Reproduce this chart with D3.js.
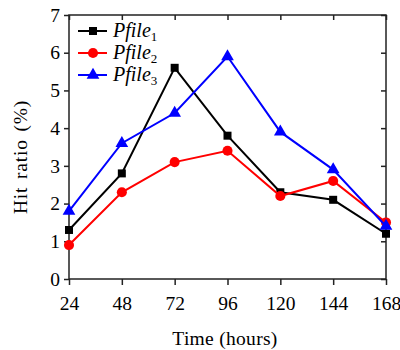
<!DOCTYPE html>
<html>
<head>
<meta charset="utf-8">
<script src="https://cdn.jsdelivr.net/npm/d3@7"></script>
<style>
	body { margin: 0; background: #fff; }
	text { font-family: "Liberation Serif", "Times New Roman", serif; fill: #000; }
</style>
</head>
<body>
<div id="chart"></div>
<script>
const hours = [24, 48, 72, 96, 120, 144, 168];
const pfile1 = [1.3, 2.8, 5.6, 3.8, 2.3, 2.1, 1.2];
const pfile2 = [0.9, 2.3, 3.1, 3.4, 2.2, 2.6, 1.5];
const pfile3 = [1.8, 3.6, 4.4, 5.9, 3.9, 2.9, 1.4];
const yTicks = [0, 1, 2, 3, 4, 5, 6, 7];
const seriesNames = ['1', '2', '3'];

const width = 400;
const height = 350;
const margin = { top: 15, right: 14, bottom: 71, left: 69 };
const chartWidth = width - margin.left - margin.right;
const chartHeight = height - margin.top - margin.bottom;

const svg = d3.select('#chart').append('svg')
	.attr('width', width)
	.attr('height', height)
	.attr('font-family', '"Liberation Serif", serif');

const g = svg.append('g').attr('transform', `translate(${margin.left},${margin.top})`);

const xScale = d3.scaleLinear().domain([24, 168]).range([0, chartWidth]);
const yScale = d3.scaleLinear().domain([0, 7]).range([chartHeight, 0]);

const series = [
	{ values: pfile1, color: '#000', symbol: d3.symbolSquare, size: 64 },
	{ values: pfile2, color: '#ff0000', symbol: d3.symbolCircle, size: 80 },
	{ values: pfile3, color: '#0000ff', symbol: d3.symbolTriangle, size: 70 },
];

// frame
g.append('rect')
	.attr('width', chartWidth)
	.attr('height', chartHeight)
	.attr('fill', 'none')
	.attr('stroke', '#222')
	.attr('stroke-width', 1.5);

// axes
const xAxis = g.append('g')
	.attr('transform', `translate(0,${chartHeight})`)
	.call(d3.axisBottom(xScale).tickValues(hours).tickSize(6).tickPadding(11));
const yAxis = g.append('g')
	.call(d3.axisLeft(yScale).tickValues(yTicks).tickFormat(d3.format('d')).tickSize(5).tickPadding(4));

[xAxis, yAxis].forEach((a) => {
	a.attr('font-family', null);
	a.select('.domain').remove();
	a.selectAll('line').attr('stroke', '#222').attr('stroke-width', 1.5);
	a.selectAll('text')
		.style('font-family', '"Liberation Serif", serif')
		.style('font-size', '19.5px')
		.attr('fill', '#000');
});

// mirror ticks on top and right
g.append('g')
	.call(d3.axisTop(xScale).tickValues(hours).tickSize(-5).tickFormat(''))
	.call((s) => s.select('.domain').remove())
	.selectAll('line').attr('stroke', '#222').attr('stroke-width', 1.5);
g.append('g')
	.attr('transform', `translate(${chartWidth},0)`)
	.call(d3.axisRight(yScale).tickValues(yTicks).tickSize(-5).tickFormat(''))
	.call((s) => s.select('.domain').remove())
	.selectAll('line').attr('stroke', '#222').attr('stroke-width', 1.5);

// axis labels
svg.append('text')
	.attr('x', 225)
	.attr('y', 345)
	.attr('text-anchor', 'middle')
	.style('font-size', '19.5px')
	.style('letter-spacing', '0.3px')
	.text('Time (hours)');

svg.append('text')
	.attr('transform', 'translate(27,157) rotate(-90)')
	.attr('text-anchor', 'middle')
	.style('font-size', '19.5px')
	.style('letter-spacing', '0.8px')
	.style('word-spacing', '2px')
	.text('Hit ratio (%)');

const line = d3.line()
	.x((d, i) => xScale(hours[i]))
	.y((d) => yScale(d));

series.forEach((s) => {
	g.append('path')
		.datum(s.values)
		.attr('fill', 'none')
		.attr('stroke', s.color)
		.attr('stroke-width', 2)
		.attr('d', line);
	g.selectAll(null)
		.data(s.values)
		.enter().append('path')
		.attr('transform', (d, i) => `translate(${xScale(hours[i])},${yScale(d)})`)
		.attr('d', d3.symbol().type(s.symbol).size(s.size))
		.attr('fill', s.color);
});

// legend
const legend = g.append('g').attr('transform', 'translate(9,16)');
series.forEach((s, i) => {
	const row = legend.append('g').attr('transform', `translate(0,${i * 22})`);
	row.append('line')
		.attr('x1', 0).attr('x2', 29)
		.attr('stroke', s.color)
		.attr('stroke-width', 2);
	row.append('path')
		.attr('transform', 'translate(15,0)')
		.attr('d', d3.symbol().type(s.symbol).size(s.size))
		.attr('fill', s.color);
	const t = row.append('text')
		.attr('x', 35)
		.attr('y', 6)
		.style('font-size', '20px')
		.style('font-style', 'italic');
	t.append('tspan').text('Pfile');
	t.append('tspan')
		.attr('dy', 4)
		.style('font-size', '13px')
		.style('font-style', 'normal')
		.text(seriesNames[i]);
});
</script>
</body>
</html>
